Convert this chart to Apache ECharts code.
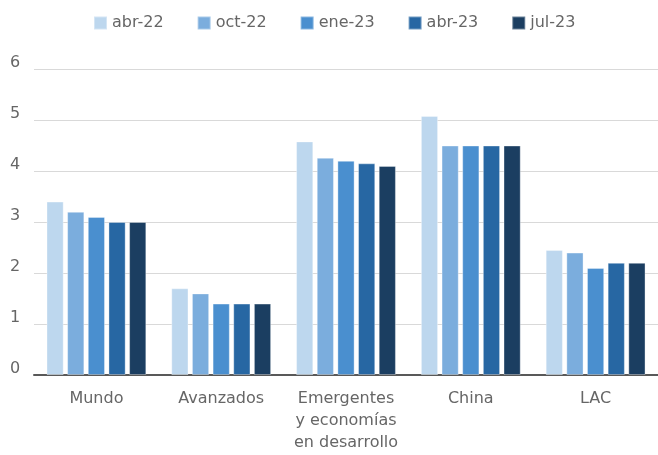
<!DOCTYPE html>
<html>
<head>
<meta charset="utf-8">
<script src="https://cdn.jsdelivr.net/npm/echarts@6/dist/echarts.min.js"></script>
<style>
  html, body { margin: 0; padding: 0; background: #fff; }
  #chart { width: 658px; height: 455px; }
</style>
</head>
<body>
<div id="chart"></div>
<script>
// datos
var categorias = ['Mundo', 'Avanzados', 'Emergentes\ny economías\nen desarrollo', 'China', 'LAC'];
var abr22 = [3.4, 1.7, 4.58, 5.08, 2.45];
var oct22 = [3.2, 1.6, 4.26, 4.5, 2.4];
var ene23 = [3.1, 1.4, 4.2, 4.5, 2.1];
var abr23 = [3.0, 1.4, 4.15, 4.5, 2.2];
var jul23 = [3.0, 1.4, 4.1, 4.5, 2.2];
var nombres = ['abr-22', 'oct-22', 'ene-23', 'abr-23', 'jul-23'];
var colores = ['#BDD7EE', '#7BADDD', '#4A8FCF', '#2767A3', '#1B3E61'];

var fuente = 'DejaVu Sans';
var gris = '#666666';

var chart = echarts.init(document.getElementById('chart'));
var datos = [abr22, oct22, ene23, abr23, jul23];
var series = datos.map(function (d, i) {
    return {
        name: nombres[i],
        type: 'bar',
        data: d,
        barGap: '20%',
        barCategoryGap: '20%',
        itemStyle: { color: colores[i], borderColor: 'rgba(255,255,255,0.35)', borderWidth: 1 }
    };
});

chart.setOption({
    animation: false,
    color: colores,
    textStyle: { fontFamily: fuente },
    legend: {
        top: 10,
        left: 88,
        itemWidth: 13,
        itemHeight: 13,
        itemGap: 33,
        icon: 'rect',
        textStyle: { color: gris, fontSize: 16, fontFamily: fuente },
        data: nombres
    },
    grid: { left: 34, right: 0, top: 69, bottom: 80 },
    xAxis: {
        type: 'category',
        data: categorias,
        axisTick: { show: false },
        axisLine: { lineStyle: { color: '#595959', width: 2 } },
        axisLabel: {
            color: gris,
            fontSize: 16,
            fontFamily: fuente,
            lineHeight: 22,
            margin: 13,
            interval: 0
        }
    },
    yAxis: {
        type: 'value',
        min: 0,
        max: 6,
        interval: 1,
        axisLine: { show: false },
        axisTick: { show: false },
        splitLine: { lineStyle: { color: '#d9d9d9', width: 1 } },
        axisLabel: {
            color: gris,
            fontSize: 16,
            fontFamily: fuente,
            align: 'left',
            margin: 24,
            verticalAlign: 'bottom',
            padding: [0, 0, -2, 0]
        }
    },
    series: series
});
</script>
</body>
</html>
